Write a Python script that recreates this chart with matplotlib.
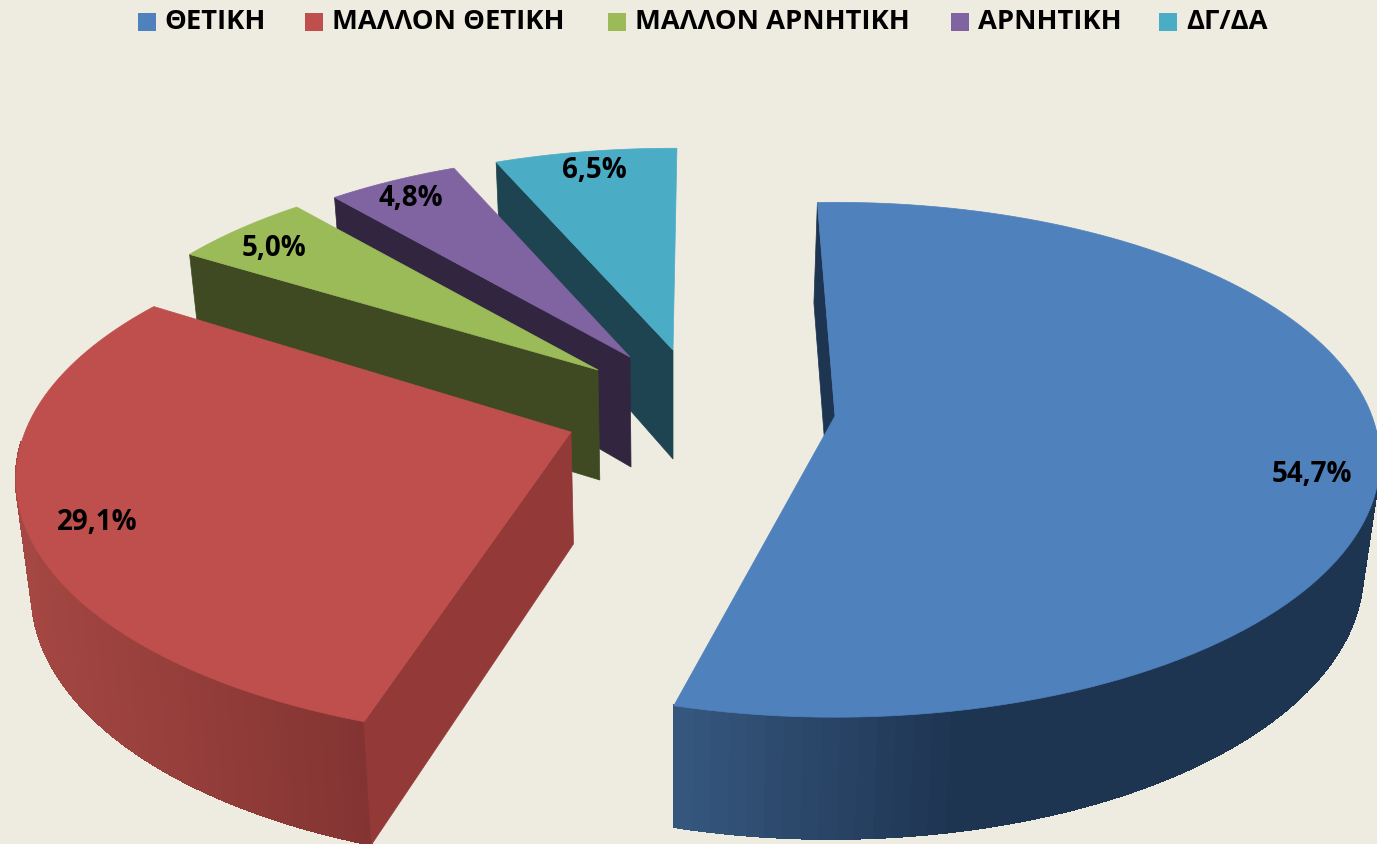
import numpy as np
import matplotlib
matplotlib.use("Agg")
import matplotlib.pyplot as plt
from matplotlib.collections import PolyCollection
from matplotlib.colors import to_rgb
from matplotlib.patches import Polygon, Rectangle

categories = ["ΘΕΤΙΚΗ", "ΜΑΛΛΟΝ ΘΕΤΙΚΗ", "ΜΑΛΛΟΝ ΑΡΝΗΤΙΚΗ", "ΑΡΝΗΤΙΚΗ", "ΔΓ/ΔΑ"]
values = [54.7, 29.1, 5.0, 4.8, 6.5]

top_colors = ["#4F81BD", "#BE4F4C", "#9BBB59", "#8064A2", "#4BACC6"]
cut_colors = ["#1E3552", "#933A38", "#3F4A22", "#32253F", "#1D4450"]
wall_left = ["#36587F", "#A54743", "#3F4A22", "#32253F", "#1D4450"]
wall_right = ["#1E3552", "#833432", "#3F4A22", "#32253F", "#1D4450"]
bg = "#EEEBE0"

# per slice layout of the fake 3d: apex x, apex y, radius x, radius y, rotation
apex_x = [835, 571, 598, 630, 673]
apex_y = [416, 432, 370, 357, 350]
rad_x = [537, 546, 517, 507, 520]
rad_y = [250, 253, 240, 235, 233]
rot = [-2.2, 1.6, 0, 0, 0.5]
depth = [110, 112, 110, 110, 109]
persp = [0.17, 0.18, 0.155, 0.155, 0.155]
depth_persp = 0.095
vanish_x = 673
shrink = 0.024

label_pos = [(1312, 475), (97, 522), (274, 248), (411, 199), (594, 170)]
legend_box_x = [138, 305, 608, 951, 1159]
legend_text_x = [164, 332, 635, 978, 1186]

plt.rcParams['font.family'] = ['Open Sans', 'DejaVu Sans']


def top_point(i, theta):
    t = np.radians(theta + rot[i])
    ux, uy = np.sin(t), -np.cos(t)
    s = 1 / (1 - persp[i] * uy)
    return apex_x[i] + rad_x[i] * ux * s, apex_y[i] + rad_y[i] * uy * s


def bottom_point(i, theta):
    x, y = top_point(i, theta)
    uy = -np.cos(np.radians(theta + rot[i]))
    return x + (vanish_x - x) * shrink, y + depth[i] / (1 - depth_persp * uy)


def apex_bottom(i):
    x = apex_x[i]
    return x + (vanish_x - x) * shrink, apex_y[i] + depth[i]


def mix(c1, c2, f):
    a, b = np.array(to_rgb(c1)), np.array(to_rgb(c2))
    return tuple(a + (b - a) * f)


def main():
    fig = plt.figure(figsize=(13.77, 8.44), dpi=100, facecolor=bg)
    ax = fig.add_axes([0, 0, 1, 1])
    ax.set_xlim(0, 1377)
    ax.set_ylim(844, 0)
    ax.axis("off")

    total = sum(values)
    edges = np.concatenate([[0], np.cumsum(values)]) / total * 360

    # back slices first so the big ones cover them
    for i in [4, 3, 2, 0, 1]:
        a0, a1 = edges[i], edges[i + 1]
        thetas = np.linspace(a0, a1, 120)

        # outer wall in strips, shaded along the screen x
        # the small back slices never show theirs, and the far side stays hidden
        if i < 2:
            strips, cols = [], []
            x_ref = [top_point(i, t)[0] for t in thetas]
            x_min, x_max = min(x_ref), max(x_ref)
            for t0, t1 in zip(thetas[:-1], thetas[1:]):
                if -np.cos(np.radians(t0 + rot[i])) < 0.05:
                    continue
                quad = [top_point(i, t0), top_point(i, t1), bottom_point(i, t1), bottom_point(i, t0)]
                xm = (quad[0][0] + quad[1][0]) / 2
                if i == 0:
                    f = min(1, max(0, (xm - 673) / 280))
                else:
                    f = (xm - x_min) / max(1, x_max - x_min)
                cols.append(mix(wall_left[i], wall_right[i], f))
                strips.append(quad)
            ax.add_collection(PolyCollection(strips, facecolors=cols, edgecolors=cols,
                                             linewidths=1.0, antialiaseds=False))

        # the cut face that can be seen
        cut = [(apex_x[i], apex_y[i]), top_point(i, a0), bottom_point(i, a0), apex_bottom(i)]
        ax.add_patch(Polygon(cut, closed=True, facecolor=cut_colors[i], edgecolor=cut_colors[i], lw=0.5))

        # top face
        pts = [(apex_x[i], apex_y[i])] + [top_point(i, t) for t in thetas]
        ax.add_patch(Polygon(pts, closed=True, facecolor=top_colors[i], edgecolor=top_colors[i], lw=0.5))

    for v, (x, y) in zip(values, label_pos):
        ax.text(x, y, f"{v:.1f}%".replace(".", ","), fontsize=20, fontweight="bold",
                color="black", ha="center", va="center")

    for name, c, bx, tx in zip(categories, top_colors, legend_box_x, legend_text_x):
        ax.add_patch(Rectangle((bx, 13), 18, 18, facecolor=c, edgecolor="none"))
        ax.text(tx, 22, name, fontsize=19.7, fontweight="bold", color="black", ha="left", va="center")

    fig.savefig("out.png", dpi=100, facecolor=bg)


if __name__ == "__main__":
    main()
